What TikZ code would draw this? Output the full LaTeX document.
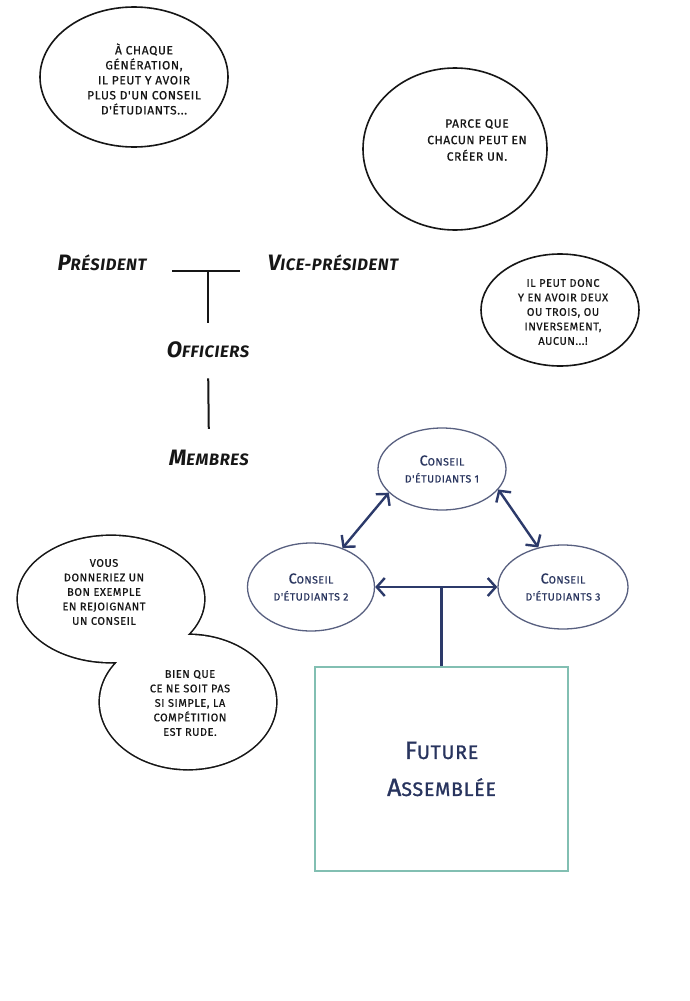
\documentclass[tikz,border=0pt]{standalone}
\usepackage{fontspec}
\setmainfont{Fira Sans}
\newfontfamily\comicfont[LetterSpace=5, FakeBold=0.6]{Fira Sans}
\newfontfamily\rankfont[LetterSpace=4]{Fira Sans}
\newfontfamily\titlefont[LetterSpace=4, FakeBold=1.2]{Fira Sans}
\usepackage{relsize}
\usetikzlibrary{arrows.meta, shapes.geometric, positioning}
\definecolor{inkblack}{RGB}{22,22,22}
\definecolor{navyline}{RGB}{44,58,106}
\definecolor{navytext}{RGB}{40,52,94}
\definecolor{ovalgray}{RGB}{88,96,128}
\definecolor{boxteal}{RGB}{130,191,178}
\newcommand{\capword}[2]{\textscale{1.35}{#1}#2}

\begin{document}
\begin{tikzpicture}[x=1pt, y=-1pt,
  every node/.style={inner sep=0pt},
  bubble/.style={ellipse, draw=inkblack, line width=1.6pt, fill=white},
  bubtext/.style={align=center, font=\comicfont\fontsize{12}{15}\selectfont, text=inkblack},
  rank/.style={font=\rankfont\fontsize{16.5}{18}\selectfont\bfseries\itshape, text=inkblack},
  council/.style={ellipse, draw=ovalgray, line width=1.3pt, align=center,
                  text=navytext, font=\comicfont\fontsize{10.5}{17}\selectfont},
  arr/.style={{Straight Barb[length=8pt,width=18pt]}-{Straight Barb[length=8pt,width=18pt]},
              navyline, line width=2.4pt},
  link/.style={inkblack, line width=2pt}
]
  \fill[white] (0,0) rectangle (690,1001);
  \useasboundingbox (0,0) rectangle (690,1001);

  % speech bubbles
  \node[bubble, minimum width=188, minimum height=140] (gen) at (134,77) {};
  \node[bubtext] at ([xshift=10pt,yshift=-2pt]gen.center)
    {À CHAQUE\\GÉNÉRATION,\\IL PEUT Y AVOIR\\PLUS D'UN CONSEIL\\D'ÉTUDIANTS...};
  \node[bubble, minimum width=184, minimum height=162] (why) at (455,149) {};
  \node[bubtext, font=\comicfont\fontsize{12}{16.5}\selectfont] at ([xshift=22pt,yshift=9pt]why.center)
    {PARCE QUE\\CHACUN PEUT EN\\CRÉER UN.};
  \node[bubble, minimum width=158, minimum height=112] (many) at (560,310) {};
  \node[bubtext, font=\comicfont\fontsize{11}{14.5}\selectfont] at ([xshift=3pt,yshift=-2pt]many.center)
    {IL PEUT DONC\\Y EN AVOIR DEUX\\OU TROIS, OU\\INVERSEMENT,\\AUCUN...!};

  % double bubble
  \draw[inkblack, line width=3.2pt] (111,599) ellipse [x radius=93, y radius=63]
                                    (188,702) ellipse [x radius=88, y radius=67];
  \fill[white] (111,599) ellipse [x radius=93, y radius=63]
               (188,702) ellipse [x radius=88, y radius=67];
  \node[bubtext, font=\comicfont\fontsize{11}{14.5}\selectfont] (join) at (104,592)
    {VOUS\\DONNERIEZ UN\\BON EXEMPLE\\EN REJOIGNANT\\UN CONSEIL};
  \node[bubtext, font=\comicfont\fontsize{11}{14.5}\selectfont] (hard) at (190,703)
    {BIEN QUE\\CE NE SOIT PAS\\SI SIMPLE, LA\\COMPÉTITION\\EST RUDE.};

  % ranks
  \node[rank] (pres) at (102,263) {\capword{P}{RÉSIDENT}};
  \node[rank] (vice) at (333,263) {\capword{V}{ICE-PRÉSIDENT}};
  \node[rank] (off)  at (208,350) {\capword{O}{FFICIERS}};
  \node[rank] (memb) at (209,458) {\capword{M}{EMBRES}};
  \coordinate (barL) at (172,271);
  \coordinate (barR) at (240,271);
  \coordinate (barM) at (208,271);
  \draw[link] (barL) -- (barR);
  \draw[link, shorten >=19pt] (barM) -- (off.north);
  \draw[link, shorten <=20pt, shorten >=21pt] (off.south) -- (memb.north);

  % councils
  \node[council, minimum width=128, minimum height=82] (c1) at (442,469)
    {\capword{C}{ONSEIL}\\D'ÉTUDIANTS 1};
  \node[council, minimum width=127, minimum height=88] (c2) at (311,587)
    {\capword{C}{ONSEIL}\\D'ÉTUDIANTS 2};
  \node[council, minimum width=130, minimum height=84] (c3) at (563,587)
    {\capword{C}{ONSEIL}\\D'ÉTUDIANTS 3};
  \node[draw=boxteal, line width=2pt, minimum width=253, minimum height=204,
        align=center, text=navytext, font=\titlefont\fontsize{19.5}{37}\selectfont] (fa) at (441.5,769)
    {\capword{F}{UTURE}\\\capword{A}{SSEMBLÉE}};

  \draw[arr] (c1.204) -- (c2.51.5);
  \draw[arr] (c1.340) -- (c3.122);
  \draw[arr] (c2.east) -- (c3.west);
  \draw[navyline, line width=2.4pt] (fa.north) -- (fa.north |- c2.east);
\end{tikzpicture}
\end{document}
